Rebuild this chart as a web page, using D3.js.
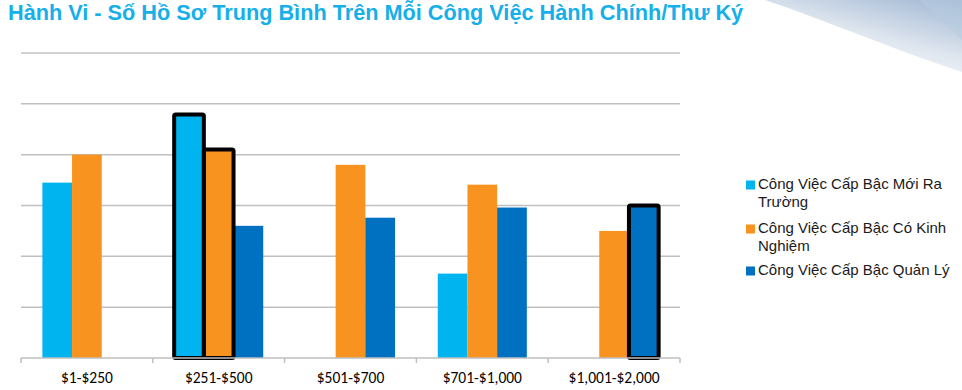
<!DOCTYPE html>
<html lang="vi">

<head>
    <meta charset="UTF-8">
    <title>Hành Vi - Số Hồ Sơ Trung Bình</title>
    <style>
        body {
            margin: 0;
            background: #fff;
        }

        svg {
            display: block;
        }
    </style>
</head>

<body>
    <svg width="962" height="390"></svg>

    <script src="https://d3js.org/d3.v7.min.js"></script>
    <script>
        // data
        const categories = ["$1-$250", "$251-$500", "$501-$700", "$701-$1,000", "$1,001-$2,000"];
        const series = ["Công Việc Cấp Bậc Mới Ra Trường", "Công Việc Cấp Bậc Có Kinh Nghiệm", "Công Việc Cấp Bậc Quản Lý"];
        const entryLevel = [3.45, 4.79, null, 1.66, null];
        const experienced = [4.0, 4.1, 3.8, 3.41, 2.5];
        const management = [null, 2.6, 2.76, 2.96, 3.0];
        const yTicks = [0, 1, 2, 3, 4, 5, 6];
        // bars with a thick black outline: [series index, category index]
        const outlined = [[0, 1], [1, 1], [2, 4]];

        const colors = ["#00b4ef", "#f7931e", "#0070c0"];
        const legendLines = [["Công Việc Cấp Bậc Mới Ra", "Trường"], ["Công Việc Cấp Bậc Có Kinh", "Nghiệm"], ["Công Việc Cấp Bậc Quản Lý"]];

        const svg = d3.select("svg");

        // soft corner decoration top right
        const defs = svg.append("defs");
        const grad = defs.append("linearGradient")
            .attr("id", "corner")
            .attr("x1", "100%").attr("y1", "0%")
            .attr("x2", "30%").attr("y2", "100%");
        grad.append("stop").attr("offset", "0%").attr("stop-color", "#9fb6d3");
        grad.append("stop").attr("offset", "55%").attr("stop-color", "#dfe6ef");
        grad.append("stop").attr("offset", "100%").attr("stop-color", "#ffffff");
        svg.append("path")
            .attr("d", "M765,0 L962,0 L962,72 C900,52 830,22 765,0 Z")
            .attr("fill", "url(#corner)");
        svg.append("path")
            .attr("d", "M920,0 L962,0 L962,40 Z")
            .attr("fill", "#b7cbe0").attr("opacity", 0.5);

        // title
        svg.append("text")
            .attr("x", 8)
            .attr("y", 20)
            .text("Hành Vi - Số Hồ Sơ Trung Bình Trên Mỗi Công Việc Hành Chính/Thư Ký")
            .style("font-family", "'Liberation Sans', Arial, sans-serif")
            .style("font-weight", "bold")
            .style("font-size", "21.7px")
            .style("fill", "#15afe9");

        const x0 = d3.scaleBand().domain(categories).range([21, 680]);
        const x1 = d3.scaleBand().domain(d3.range(series.length))
            .range([0, x0.bandwidth()]).paddingInner(0).paddingOuter(0.72);
        const y = d3.scaleLinear().domain([0, 6]).range([358, 53]);

        // gridlines
        svg.append("g")
            .selectAll("line")
            .data(yTicks.slice(1))
            .enter()
            .append("line")
            .attr("x1", 21).attr("x2", 680)
            .attr("y1", d => y(d)).attr("y2", d => y(d))
            .style("stroke", "#c0c0c0")
            .style("stroke-width", 1.5);

        // bars
        const allValues = [entryLevel, experienced, management];
        const bars = [];
        allValues.forEach((vals, s) => {
            vals.forEach((v, c) => {
                if (v != null) bars.push({ s: s, c: c, v: v });
            });
        });
        const isOutlined = d => outlined.some(o => o[0] === d.s && o[1] === d.c);

        svg.append("g")
            .selectAll("rect")
            .data(bars)
            .enter()
            .append("rect")
            .attr("x", d => x0(categories[d.c]) + x1(d.s))
            .attr("y", d => y(d.v))
            .attr("width", x1.bandwidth())
            .attr("height", d => y(0) - y(d.v))
            .attr("fill", d => colors[d.s]);

        svg.append("g")
            .selectAll("rect")
            .data(bars.filter(isOutlined))
            .enter()
            .append("rect")
            .attr("x", d => x0(categories[d.c]) + x1(d.s))
            .attr("y", d => y(d.v))
            .attr("width", x1.bandwidth())
            .attr("height", d => y(0) - y(d.v))
            .attr("fill", "none")
            .attr("rx", 1.5)
            .style("stroke", "#000")
            .style("stroke-width", 4);

        // x axis
        const axis = svg.append("g")
            .attr("transform", "translate(0," + y(0) + ")")
            .call(d3.axisBottom(x0).tickSize(0).tickPadding(14));
        axis.select(".domain").remove();
        axis.selectAll("text")
            .style("font-family", "Carlito, Calibri, 'Liberation Sans', Arial, sans-serif")
            .style("font-size", "15.5px")
            .style("fill", "#000");
        axis.append("line")
            .attr("x1", 21).attr("x2", 680)
            .style("stroke", "#bfbfbf").style("stroke-width", 1.5);
        axis.selectAll(".bound")
            .data(categories.map(c => x0(c)).concat([680]))
            .enter()
            .append("line")
            .attr("class", "bound")
            .attr("x1", d => d).attr("x2", d => d)
            .attr("y1", 0).attr("y2", 5)
            .style("stroke", "#bfbfbf").style("stroke-width", 1.5);

        // legend
        const legendY = [189, 233, 275];
        const legend = svg.append("g");
        legendLines.forEach((lines, i) => {
            const g = legend.append("g").attr("transform", "translate(746," + legendY[i] + ")");
            g.append("rect")
                .attr("x", 0).attr("y", -8.5)
                .attr("width", 9).attr("height", 9)
                .attr("fill", colors[i]);
            g.selectAll("text")
                .data(lines)
                .enter()
                .append("text")
                .attr("x", 12)
                .attr("y", (d, j) => j * 17.5)
                .text(d => d)
                .style("font-family", "'Liberation Sans', Arial, sans-serif")
                .style("font-size", "15px")
                .style("fill", "#1a1a1a");
        });
    </script>
</body>

</html>
